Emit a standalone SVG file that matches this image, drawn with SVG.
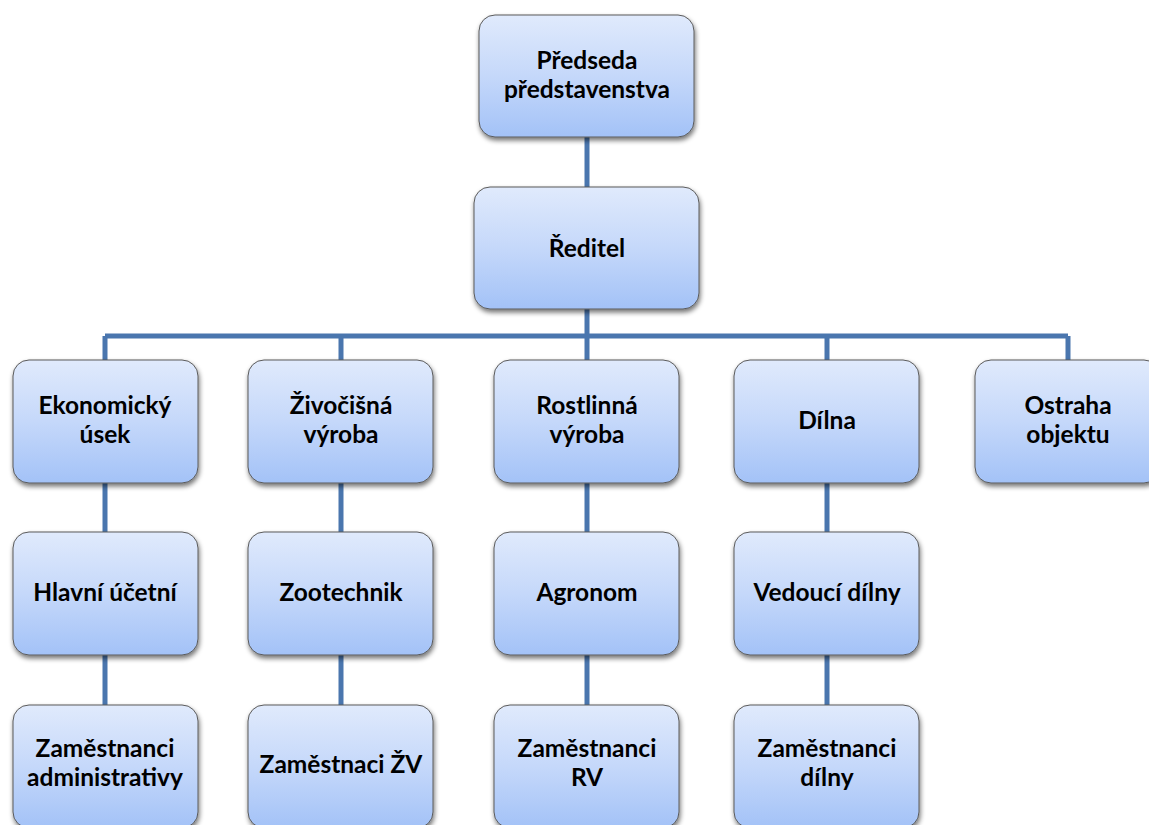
<svg xmlns="http://www.w3.org/2000/svg" width="1149" height="825" viewBox="0 0 1149 825">
<style>
.box{fill:url(#g);stroke:#5a5a5a;stroke-width:1;filter:url(#sh)}
.t{font-family:Lato,"Open Sans",sans-serif;font-weight:bold;font-size:24.5px;fill:#000;text-anchor:middle}
.c{stroke:#4a76ae;stroke-width:5;fill:none}
</style>
<defs>
<linearGradient id="g" x1="0" y1="0" x2="0" y2="1">
<stop offset="0" stop-color="#e0eafc"/>
<stop offset="0.5" stop-color="#c5d8fa"/>
<stop offset="1" stop-color="#a3c2f7"/>
</linearGradient>
<filter id="sh" x="-10%" y="-10%" width="125%" height="130%">
<feGaussianBlur in="SourceAlpha" stdDeviation="2.5"/>
<feOffset dx="1" dy="3" result="b"/>
<feComponentTransfer><feFuncA type="linear" slope="0.55"/></feComponentTransfer>
<feMerge><feMergeNode/><feMergeNode in="SourceGraphic"/></feMerge>
</filter>
</defs>
<g id="connectors">
<path class="c" d="M587 137V187M587 309V360M105 336H1068M105 336V360M341 336V360M827 336V360M1068 336V360"/>
<path class="c" d="M105 483V532M341 483V532M587 483V532M827 483V532"/>
<path class="c" d="M105 655V705M341 655V705M587 655V705M827 655V705"/>
</g>
<g id="predseda"><rect class="box" x="479" y="15" width="215" height="122" rx="16"/><text class="t" x="587" y="69">Předseda</text><text class="t" x="587" y="98">představenstva</text></g>
<g id="reditel"><rect class="box" x="474" y="187" width="225" height="122" rx="16"/><text class="t" x="587" y="257">Ředitel</text></g>
<g id="ekonomicky"><rect class="box" x="13" y="360" width="185" height="123" rx="16"/><text class="t" x="105" y="414">Ekonomický</text><text class="t" x="105" y="443">úsek</text></g>
<g id="zivocisna"><rect class="box" x="248" y="360" width="185" height="123" rx="16"/><text class="t" x="341" y="414">Živočišná</text><text class="t" x="341" y="443">výroba</text></g>
<g id="rostlinna"><rect class="box" x="494" y="360" width="185" height="123" rx="16"/><text class="t" x="587" y="414">Rostlinná</text><text class="t" x="587" y="443">výroba</text></g>
<g id="dilna"><rect class="box" x="734" y="360" width="185" height="123" rx="16"/><text class="t" x="827" y="429">Dílna</text></g>
<g id="ostraha"><rect class="box" x="975" y="360" width="185" height="123" rx="16"/><text class="t" x="1068" y="414">Ostraha</text><text class="t" x="1068" y="443">objektu</text></g>
<g id="ucetni"><rect class="box" x="13" y="532" width="185" height="123" rx="16"/><text class="t" x="105" y="601">Hlavní účetní</text></g>
<g id="zootechnik"><rect class="box" x="248" y="532" width="185" height="123" rx="16"/><text class="t" x="341" y="601">Zootechnik</text></g>
<g id="agronom"><rect class="box" x="494" y="532" width="185" height="123" rx="16"/><text class="t" x="587" y="601">Agronom</text></g>
<g id="vedouci"><rect class="box" x="734" y="532" width="185" height="123" rx="16"/><text class="t" x="827" y="601">Vedoucí dílny</text></g>
<g id="zam-admin"><rect class="box" x="13" y="705" width="185" height="123" rx="16"/><text class="t" x="105" y="757">Zaměstnanci</text><text class="t" x="105" y="786">administrativy</text></g>
<g id="zam-zv"><rect class="box" x="248" y="705" width="185" height="123" rx="16"/><text class="t" x="341" y="773">Zaměstnaci ŽV</text></g>
<g id="zam-rv"><rect class="box" x="494" y="705" width="185" height="123" rx="16"/><text class="t" x="587" y="757">Zaměstnanci</text><text class="t" x="587" y="786">RV</text></g>
<g id="zam-dilny"><rect class="box" x="734" y="705" width="185" height="123" rx="16"/><text class="t" x="827" y="757">Zaměstnanci</text><text class="t" x="827" y="786">dílny</text></g>
</svg>
